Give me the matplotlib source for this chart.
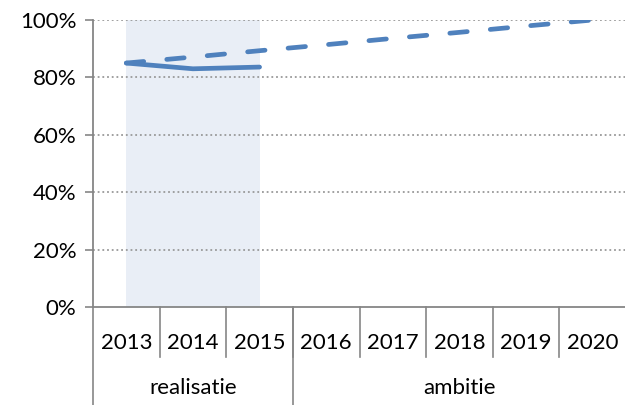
import matplotlib
matplotlib.use("Agg")
import matplotlib.pyplot as plt
from matplotlib.lines import Line2D

years = ["2013", "2014", "2015", "2016", "2017", "2018", "2019", "2020"]
groups = ["realisatie", "ambitie"]
group_sizes = [3, 5]
realisatie = [0.85, 0.83, 0.836]
ambitie = [0.85, 0.871, 0.893, 0.914, 0.936, 0.957, 0.979, 1.00]
yticks = [0, 0.2, 0.4, 0.6, 0.8, 1.0]
ytick_labels = ["0%", "20%", "40%", "60%", "80%", "100%"]

plt.rcParams['font.family'] = ['Lato', 'DejaVu Sans']
W, H = 625, 405
fig = plt.figure(figsize=(W / 100, H / 100), dpi=100)
left, right, top, bottom = 93, 626, 20, 307
ax = fig.add_axes([left / W, 1 - bottom / H, (right - left) / W, (bottom - top) / H])

blue = "#4F81BD"
gray = "#868686"
x = list(range(len(years)))

ax.axvspan(0, len(realisatie) - 1, color="#E9EEF6", zorder=0, lw=0)
ax.plot(x, ambitie, color=blue, lw=3.4, dashes=(3.7, 4.9), solid_capstyle="round",
        dash_capstyle="round", zorder=3)
ax.plot(x[:len(realisatie)], realisatie, color=blue, lw=3.4, solid_capstyle="round",
        solid_joinstyle="round", zorder=3)

ax.set_xlim(-0.5, len(years) - 0.5)
ax.set_ylim(0, 1.0)
ax.set_yticks(yticks)
ax.set_yticklabels(ytick_labels, fontsize=16, color="#000000")
ax.tick_params(axis="y", length=6, width=1.2, color=gray, pad=6)
ax.set_xticks([])
for yv in yticks[1:]:
    ax.axhline(yv, color="#999999", lw=1.3, ls=(0, (1, 1.6)), zorder=1)
for s in ["top", "right"]:
    ax.spines[s].set_visible(False)
ax.spines["left"].set_color(gray)
ax.spines["left"].set_linewidth(1.3)
ax.spines["bottom"].set_color(gray)
ax.spines["bottom"].set_linewidth(1.3)

def fy(py):
    return 1 - py / H

def fx(xv):
    return (left + (xv + 0.5) * (right - left) / len(years)) / W

for i, yr in enumerate(years):
    fig.text(fx(i), fy(343), yr, ha="center", va="center", fontsize=16)
for i in range(1, len(years)):
    fig.add_artist(Line2D([fx(i - 0.5)] * 2, [fy(307), fy(357)], color=gray, lw=1.2))
start = 0
boundaries = [-0.5]
for g, n in zip(groups, group_sizes):
    mid = start + (n - 1) / 2
    fig.text(fx(mid), fy(388), g, ha="center", va="center", fontsize=16)
    start += n
    boundaries.append(start - 0.5)
for b in boundaries[:-1]:
    fig.add_artist(Line2D([fx(b)] * 2, [fy(307), fy(405)], color=gray, lw=1.2))

fig.savefig("out.png", dpi=100)
